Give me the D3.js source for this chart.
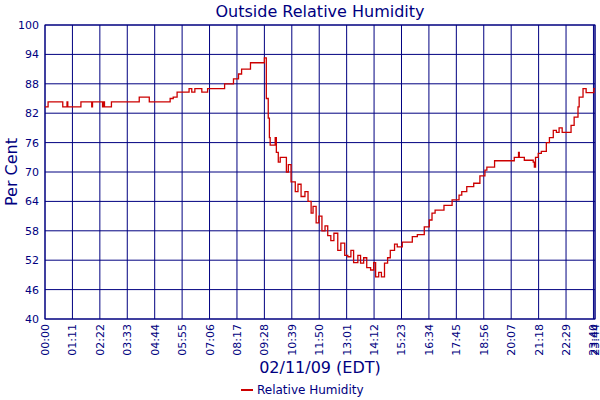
<!DOCTYPE html>
<html><head><meta charset="utf-8">
<script src="https://cdn.jsdelivr.net/npm/d3@7"></script>
<style>body{margin:0;background:#fff}text{font-family:"DejaVu Sans",Verdana,sans-serif}</style>
</head><body><div id="chart"></div>
<script>
// minutes after midnight, relative humidity (%)
const minutes = [0,8,46,57,59,93,121,123,149,152,154,172,244,270,324,332,342,373,380,388,406,421,465,488,501,509,532,568,573,578,581,583,596,599,604,609,625,630,637,648,655,663,673,681,689,694,702,709,717,725,732,740,748,758,766,776,784,792,799,810,817,825,833,843,851,856,864,871,879,887,894,905,912,925,938,951,964,982,995,1002,1010,1033,1054,1072,1079,1092,1110,1126,1139,1144,1164,1215,1226,1228,1241,1264,1267,1270,1277,1285,1298,1306,1316,1324,1331,1339,1362,1370,1380,1383,1393,1401,1419,1421,1424];
const humidity = [83.3,84.3,83.3,84.3,83.3,84.3,83.3,84.3,83.3,84.3,83.3,84.3,85.3,84.3,85,85.3,86.3,87,86.3,87,86.3,87,88,89,90,91,92.3,93.3,85,81,77,75.5,77,74,72,73,70,71.5,68,66,67.5,65,66,64,61.6,63,59.6,61,58,59,57,56,57.5,54,55.5,53,52.7,54,51.5,53,51.4,52.5,50.5,50,51.5,48.6,49.5,48.6,51.4,52.5,54,55.3,54.7,55.7,55.7,56.8,57.2,58.8,60.2,61.6,62.2,63.2,64.3,65.3,66,67,67.7,69.2,70.4,71,72.3,73,74,73,72.4,72,71,73,73.8,74.2,76,77,78.5,78.1,79,78.1,79.5,81.2,83.3,85.3,87,86.2,86.2,87,87];
const yTicks = [40,46,52,58,64,70,76,82,88,94,100];
const xTicks = [0,71,142,213,284,355,426,497,568,639,710,781,852,923,994,1065,1136,1207,1278,1349,1420,1424];

const W = 600, H = 400, navy = "#000080";
const m = {left:45, right:5, top:25, bottom:81};
const svg = d3.select("#chart").append("svg").attr("width", W).attr("height", H);
const x = d3.scaleLinear().domain([0,1424]).range([m.left, W-m.right]);
const y = d3.scaleLinear().domain([40,100]).range([H-m.bottom, m.top]);
const fmt = t => String(Math.floor(t/60)).padStart(2,"0") + ":" + String(t%60).padStart(2,"0");

svg.append("g").selectAll("line").data(yTicks).join("line")
  .attr("x1", m.left).attr("x2", W-m.right).attr("y1", d => y(d)).attr("y2", d => y(d))
  .attr("stroke", navy);
svg.append("g").selectAll("line").data(xTicks).join("line")
  .attr("y1", m.top).attr("y2", H-m.bottom).attr("x1", d => x(d)).attr("x2", d => x(d))
  .attr("stroke", navy);
svg.append("rect").attr("x", m.left).attr("y", m.top).attr("width", W-m.left-m.right)
  .attr("height", H-m.top-m.bottom).attr("fill", "none").attr("stroke", navy);

svg.append("g").selectAll("text").data(yTicks).join("text")
  .attr("x", m.left-6).attr("y", d => y(d)+4).attr("text-anchor", "end")
  .attr("font-size", 11).attr("fill", navy).text(d => d);
svg.append("g").selectAll("text").data(xTicks).join("text")
  .attr("transform", d => `translate(${x(d)+4},${H-m.bottom+5}) rotate(-90)`)
  .attr("text-anchor", "end").attr("font-size", 11).attr("fill", navy).text(fmt);

const pts = minutes.map((t,i) => [t, humidity[i]]);
svg.append("path").datum(pts)
  .attr("d", d3.line().x(d => x(d[0])).y(d => y(d[1])).curve(d3.curveStepAfter))
  .attr("fill", "none").attr("stroke", "#cc0000").attr("stroke-width", 1.3);

svg.append("text").attr("x", 320).attr("y", 17).attr("text-anchor", "middle")
  .attr("font-size", 16).attr("fill", navy).text("Outside Relative Humidity");
svg.append("text").attr("transform", "translate(17,172) rotate(-90)").attr("text-anchor", "middle")
  .attr("font-size", 16).attr("fill", navy).text("Per Cent");
svg.append("text").attr("x", 320).attr("y", 373).attr("text-anchor", "middle")
  .attr("font-size", 16).attr("fill", navy).text("02/11/09 (EDT)");

const lg = svg.append("g").attr("transform", "translate(241,390)");
lg.append("line").attr("x1", 0).attr("x2", 12).attr("stroke", "#cc0000").attr("stroke-width", 2);
lg.append("text").attr("x", 16).attr("y", 4).attr("font-size", 12).attr("fill", navy).text("Relative Humidity");
</script></body></html>
